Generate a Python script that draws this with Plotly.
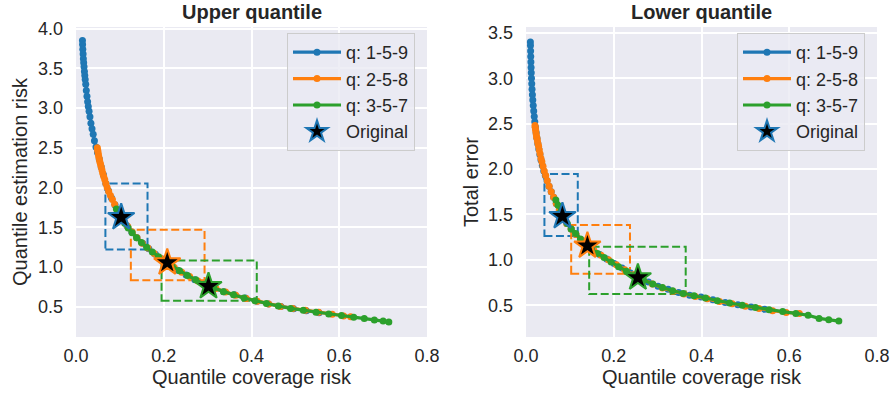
import plotly.graph_objects as go

# ---------------- data ----------------
# Upper quantile: Pareto fronts (coverage risk vs estimation risk)
upper_q159_x = [0.0147, 0.0150, 0.0155, 0.0162, 0.0168, 0.0175, 0.0183, 0.0192, 0.0200, 0.0210,
                0.0222, 0.0235, 0.0250, 0.0265, 0.0280, 0.0298, 0.0318, 0.0340, 0.0365, 0.0392,
                0.0420, 0.0455, 0.0490, 0.0530, 0.0575, 0.0625, 0.0680, 0.0740, 0.0810, 0.0890,
                0.0970, 0.1060, 0.1160, 0.1270, 0.1390, 0.1520, 0.1660, 0.1810, 0.1970, 0.2140,
                0.2320, 0.2510, 0.2710, 0.2920, 0.3140, 0.3370, 0.3610, 0.3860, 0.4120, 0.4390,
                0.4670, 0.4960, 0.5250, 0.5540]
upper_q159_y = [3.85, 3.80, 3.74, 3.68, 3.62, 3.57, 3.52, 3.46, 3.41, 3.36,
                3.30, 3.22, 3.15, 3.08, 3.02, 2.96, 2.89, 2.81, 2.74, 2.67,
                2.59, 2.51, 2.44, 2.36, 2.26, 2.16, 2.05, 1.96, 1.87, 1.78,
                1.69, 1.60, 1.52, 1.44, 1.37, 1.30, 1.23, 1.16, 1.10, 1.035,
                0.96, 0.90, 0.84, 0.785, 0.735, 0.69, 0.65, 0.61, 0.57, 0.535,
                0.505, 0.475, 0.45, 0.425]

upper_q258_x = [0.0486, 0.0495, 0.0503, 0.0512, 0.0522, 0.0534, 0.0546, 0.0560, 0.0575, 0.0592,
                0.0610, 0.0632, 0.0655, 0.0680, 0.0710, 0.0745, 0.0785, 0.0830, 0.0880, 0.0940,
                0.1010, 0.1090, 0.1180, 0.1280, 0.1390, 0.1510, 0.1640, 0.1780, 0.1930, 0.2080,
                0.2240, 0.2410, 0.2590, 0.2780, 0.2980, 0.3190, 0.3410, 0.3640, 0.3880, 0.4130,
                0.4390, 0.4660, 0.4940, 0.5230, 0.5530, 0.5840, 0.6100, 0.6260]
upper_q258_y = [2.50, 2.47, 2.44, 2.41, 2.38, 2.35, 2.32, 2.29, 2.26, 2.22,
                2.18, 2.14, 2.10, 2.05, 2.00, 1.95, 1.90, 1.85, 1.79, 1.72,
                1.65, 1.58, 1.51, 1.44, 1.37, 1.30, 1.24, 1.17, 1.11, 1.055,
                0.995, 0.935, 0.88, 0.825, 0.775, 0.73, 0.685, 0.645, 0.605, 0.57,
                0.535, 0.505, 0.48, 0.455, 0.43, 0.405, 0.385, 0.375]

upper_q357_x = [0.0920, 0.0975, 0.1040, 0.1110, 0.1190, 0.1280, 0.1380, 0.1490, 0.1610, 0.1740,
                0.1880, 0.2030, 0.2190, 0.2360, 0.2540, 0.2730, 0.2930, 0.3140, 0.3360, 0.3590,
                0.3830, 0.4080, 0.4340, 0.4610, 0.4890, 0.5180, 0.5470, 0.5760, 0.6050, 0.6330,
                0.6570, 0.6800, 0.7000, 0.7130]
upper_q357_y = [1.73, 1.67, 1.61, 1.55, 1.49, 1.43, 1.37, 1.31, 1.25, 1.19,
                1.13, 1.075, 1.015, 0.955, 0.895, 0.84, 0.78, 0.735, 0.69, 0.65,
                0.61, 0.575, 0.54, 0.51, 0.48, 0.455, 0.43, 0.41, 0.39, 0.37,
                0.352, 0.335, 0.32, 0.31]

# Lower quantile: Pareto fronts (coverage risk vs total error)
lower_q159_x = [0.0100, 0.0102, 0.0105, 0.0108, 0.0112, 0.0116, 0.0120, 0.0125, 0.0131, 0.0138,
                0.0146, 0.0155, 0.0165, 0.0176, 0.0188, 0.0200, 0.0215, 0.0232, 0.0250, 0.0270,
                0.0292, 0.0316, 0.0342, 0.0372, 0.0405, 0.0440, 0.0480, 0.0525, 0.0575, 0.0630,
                0.0690, 0.0760, 0.0840, 0.0930, 0.1030, 0.1140, 0.1260, 0.1390, 0.1530, 0.1680,
                0.1840, 0.2010, 0.2190, 0.2380, 0.2580, 0.2790, 0.3010, 0.3240, 0.3480, 0.3730,
                0.3990, 0.4260, 0.4540, 0.4830, 0.5130, 0.5440]
lower_q159_y = [3.40, 3.36, 3.30, 3.24, 3.18, 3.12, 3.06, 3.00, 2.94, 2.88,
                2.82, 2.76, 2.70, 2.64, 2.58, 2.52, 2.46, 2.40, 2.34, 2.28,
                2.22, 2.16, 2.10, 2.04, 1.98, 1.93, 1.87, 1.81, 1.75, 1.69,
                1.62, 1.55, 1.47, 1.40, 1.34, 1.28, 1.22, 1.16, 1.11, 1.06,
                1.01, 0.96, 0.91, 0.855, 0.80, 0.755, 0.71, 0.675, 0.64, 0.61,
                0.59, 0.56, 0.53, 0.505, 0.48, 0.455]

lower_q258_x = [0.0205, 0.0210, 0.0216, 0.0223, 0.0231, 0.0240, 0.0250, 0.0261, 0.0273, 0.0287,
                0.0302, 0.0320, 0.0340, 0.0362, 0.0388, 0.0416, 0.0448, 0.0485, 0.0527, 0.0575,
                0.0630, 0.0690, 0.0760, 0.0840, 0.0930, 0.1030, 0.1140, 0.1260, 0.1400, 0.1550,
                0.1710, 0.1880, 0.2060, 0.2250, 0.2450, 0.2660, 0.2880, 0.3110, 0.3350, 0.3600,
                0.3860, 0.4130, 0.4410, 0.4700, 0.5000, 0.5310, 0.5620, 0.5930, 0.6230]
lower_q258_y = [2.48, 2.46, 2.44, 2.42, 2.39, 2.36, 2.34, 2.31, 2.28, 2.25,
                2.21, 2.17, 2.12, 2.08, 2.03, 1.98, 1.93, 1.87, 1.81, 1.75,
                1.69, 1.62, 1.55, 1.47, 1.40, 1.34, 1.28, 1.22, 1.155, 1.10,
                1.05, 1.00, 0.945, 0.89, 0.835, 0.785, 0.735, 0.69, 0.655, 0.625,
                0.595, 0.57, 0.54, 0.515, 0.49, 0.465, 0.44, 0.42, 0.41]

lower_q357_x = [0.0680, 0.0730, 0.0790, 0.0860, 0.0940, 0.1030, 0.1130, 0.1240, 0.1360, 0.1490,
                0.1630, 0.1780, 0.1940, 0.2110, 0.2290, 0.2480, 0.2680, 0.2890, 0.3110, 0.3340,
                0.3580, 0.3830, 0.4090, 0.4360, 0.4640, 0.4930, 0.5230, 0.5540, 0.5850, 0.6150,
                0.6430, 0.6680, 0.6900, 0.7130]
lower_q357_y = [1.66, 1.60, 1.53, 1.46, 1.40, 1.34, 1.29, 1.23, 1.17, 1.12,
                1.07, 1.025, 0.975, 0.925, 0.875, 0.82, 0.775, 0.735, 0.695, 0.66,
                0.63, 0.605, 0.58, 0.55, 0.525, 0.50, 0.475, 0.45, 0.43, 0.41,
                0.39, 0.355, 0.34, 0.325]

# Original operating points (one per quantile set)
upper_orig_x = [0.103, 0.208, 0.302]
upper_orig_y = [1.625, 1.055, 0.757]
lower_orig_x = [0.083, 0.140, 0.255]
lower_orig_y = [1.48, 1.155, 0.804]

# Variation boxes around each original point: [x0, x1, y0, y1]
upper_boxes = [[0.067, 0.163, 1.22, 2.05],
               [0.125, 0.293, 0.835, 1.47],
               [0.195, 0.412, 0.575, 1.083]]
lower_boxes = [[0.042, 0.118, 1.264, 1.946],
               [0.103, 0.237, 0.848, 1.384],
               [0.144, 0.364, 0.623, 1.145]]

series_names = ["q: 1-5-9", "q: 2-5-8", "q: 3-5-7"]
x_ticks = [0.0, 0.2, 0.4, 0.6, 0.8]
upper_y_ticks = [0.5, 1.0, 1.5, 2.0, 2.5, 3.0, 3.5, 4.0]
lower_y_ticks = [0.5, 1.0, 1.5, 2.0, 2.5, 3.0, 3.5]

# ---------------- styling ----------------
COLORS = ["#1f77b4", "#ff7f0e", "#2ca02c"]
TEXT = "#262626"
BG = "#EAEAF2"
FONT = "Liberation Sans, Arial, sans-serif"

W, H = 891, 395
ML, MR, MT, MB = 76, 14, 27, 58
plot_w = W - ML - MR
plot_h = H - MT - MB

fig = go.Figure()

panels = [
    dict(xs=[upper_q159_x, upper_q258_x, upper_q357_x],
         ys=[upper_q159_y, upper_q258_y, upper_q357_y],
         ox=upper_orig_x, oy=upper_orig_y, boxes=upper_boxes,
         xa="x", ya="y", legend="legend"),
    dict(xs=[lower_q159_x, lower_q258_x, lower_q357_x],
         ys=[lower_q159_y, lower_q258_y, lower_q357_y],
         ox=lower_orig_x, oy=lower_orig_y, boxes=lower_boxes,
         xa="x2", ya="y2", legend="legend2"),
]

for p in panels:
    for xs, ys, name, col in zip(p["xs"], p["ys"], series_names, COLORS):
        fig.add_trace(go.Scatter(
            x=xs, y=ys, name=name, mode="lines+markers",
            line=dict(color=col, width=3.2),
            marker=dict(color=col, size=7),
            xaxis=p["xa"], yaxis=p["ya"], legend=p["legend"],
        ))
    fig.add_trace(go.Scatter(
        x=p["ox"], y=p["oy"], name="Original", mode="markers",
        marker=dict(symbol="star", size=20, color="black",
                    line=dict(color=COLORS, width=2)),
        xaxis=p["xa"], yaxis=p["ya"], legend=p["legend"],
    ))
    for (x0, x1, y0, y1), col in zip(p["boxes"], COLORS):
        fig.add_shape(type="rect", x0=x0, x1=x1, y0=y0, y1=y1,
                      xref=p["xa"], yref=p["ya"], layer="between",
                      line=dict(color=col, width=2, dash="8px,3.5px"),
                      fillcolor="rgba(0,0,0,0)")

axis_common = dict(
    showgrid=True, gridcolor="white", gridwidth=1.5,
    zeroline=False, showline=False, ticks="", automargin=False,
    tickfont=dict(size=18, color=TEXT, family=FONT),
    title_font=dict(size=20, color=TEXT, family=FONT),
)

d1 = (427 - ML) / plot_w
d2 = (526 - ML) / plot_w

legend_common = dict(
    xanchor="left", yanchor="top", itemwidth=48,
    bgcolor="rgba(234,234,242,0.8)", bordercolor="#cccccc", borderwidth=1,
    font=dict(size=18, color=TEXT, family=FONT),
)

fig.update_layout(
    width=W, height=H,
    margin=dict(l=ML, r=MR, t=MT, b=MB, autoexpand=False),
    paper_bgcolor="white", plot_bgcolor=BG,
    font=dict(family=FONT, color=TEXT, size=18),
    xaxis=dict(domain=[0, d1], range=[0, 0.8], tickvals=x_ticks, tickformat=".1f",
               anchor="y", title=dict(text="Quantile coverage risk", standoff=0),
               ticklabelstandoff=6, **axis_common),
    yaxis=dict(domain=[0, 1], range=[0.12, 4.02], tickvals=upper_y_ticks, tickformat=".1f",
               anchor="x", title=dict(text="Quantile estimation risk", standoff=4),
               ticklabelstandoff=12, **axis_common),
    xaxis2=dict(domain=[d2, 1], range=[0, 0.8], tickvals=x_ticks, tickformat=".1f",
                anchor="y2", title=dict(text="Quantile coverage risk", standoff=0),
                ticklabelstandoff=6, **axis_common),
    yaxis2=dict(domain=[0, 1], range=[0.15, 3.565], tickvals=lower_y_ticks, tickformat=".1f",
                anchor="x2", title=dict(text="Total error", standoff=3),
                ticklabelstandoff=12, **axis_common),
    legend=dict(x=(287 - ML) / plot_w, y=1 - (33 - MT) / plot_h, **legend_common),
    legend2=dict(x=(737 - ML) / plot_w, y=1 - (33 - MT) / plot_h, **legend_common),
    annotations=[
        dict(text="<b>Upper quantile</b>", x=d1 / 2, y=1, xref="paper", yref="paper",
             xanchor="center", yanchor="bottom", yshift=2, showarrow=False,
             font=dict(size=20, color=TEXT, family=FONT)),
        dict(text="<b>Lower quantile</b>", x=(d2 + 1) / 2, y=1, xref="paper", yref="paper",
             xanchor="center", yanchor="bottom", yshift=2, showarrow=False,
             font=dict(size=20, color=TEXT, family=FONT)),
    ],
)

fig.write_html("out.html")
